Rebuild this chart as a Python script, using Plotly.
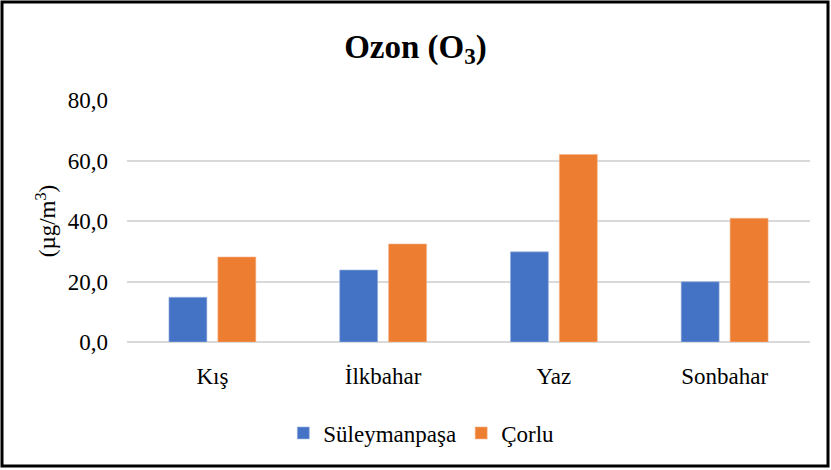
import plotly.graph_objects as go

categories = ["Kış", "İlkbahar", "Yaz", "Sonbahar"]
suleymanpasa = [14.8, 23.8, 29.8, 19.9]
corlu = [28.1, 32.4, 62.0, 40.9]
series_names = ["Süleymanpaşa", "Çorlu"]
y_ticks = [0, 20, 40, 60, 80]

FONT = "Liberation Serif"
LEGEND_FONT = "Times New Roman, Liberation Serif, serif"

fig = go.Figure()
fig.add_trace(go.Bar(x=categories, y=suleymanpasa, name=series_names[0],
                     marker=dict(color="#4472C4", line=dict(color="#9fb5e0", width=0.6))))
fig.add_trace(go.Bar(x=categories, y=corlu, name=series_names[1],
                     marker=dict(color="#ED7D31", line=dict(color="#f5b48a", width=0.6))))

W, H = 831, 470
L, R, T, B = 127, 21, 100, 128
pw, ph = W - L - R, H - T - B

def px_to_paper_x(px):
    return (px - L) / pw

def px_to_paper_y(py):
    return (H - B - py) / ph

fig.update_layout(
    width=W, height=H,
    margin=dict(l=L, r=R, t=T, b=B, autoexpand=False),
    paper_bgcolor="white", plot_bgcolor="white",
    font=dict(family=FONT, color="#000000", size=23),
    title=dict(text="<b>Ozon (O<sub>3</sub>)</b>", x=0.5, xref="container", xanchor="center",
               y=1 - 46 / H, yref="container", yanchor="middle",
               font=dict(family=FONT, size=33, color="#000000")),
    barmode="group", bargap=0.427, bargroupgap=0.224,
    showlegend=True,
    legend=dict(orientation="h", xref="container", x=0.507, xanchor="center",
                yref="container", y=1 - 433 / H, yanchor="middle",
                font=dict(family=LEGEND_FONT, size=23, color="#000000"),
                itemwidth=30, tracegroupgap=0, traceorder="normal"),
    xaxis=dict(showgrid=False, showline=False, zeroline=False, ticks="",
               tickfont=dict(family=FONT, size=23, color="#000000"),
               ticklabelstandoff=18),
    yaxis=dict(range=[0, 80], tickvals=y_ticks, tickformat=".1f",
               showgrid=True, gridcolor="#d9d9d9", gridwidth=1.6,
               zeroline=True, zerolinecolor="#d9d9d9", zerolinewidth=1.6,
               showline=False, ticks="",
               tickfont=dict(family=FONT, size=23, color="#000000"),
               ticklabelstandoff=18,
               title=dict(text="(µg/m<sup>3</sup>)", standoff=5,
                          font=dict(family=FONT, size=23, color="#000000"))),
    separators=",.",
)

fig.add_shape(type="rect", xref="paper", yref="paper",
              x0=px_to_paper_x(2), x1=px_to_paper_x(828),
              y0=px_to_paper_y(466), y1=px_to_paper_y(2),
              line=dict(color="#000000", width=3), fillcolor="rgba(0,0,0,0)",
              layer="above")

fig.write_html("out.html", config={"displayModeBar": False},
               post_script="document.body.style.margin='0';")
